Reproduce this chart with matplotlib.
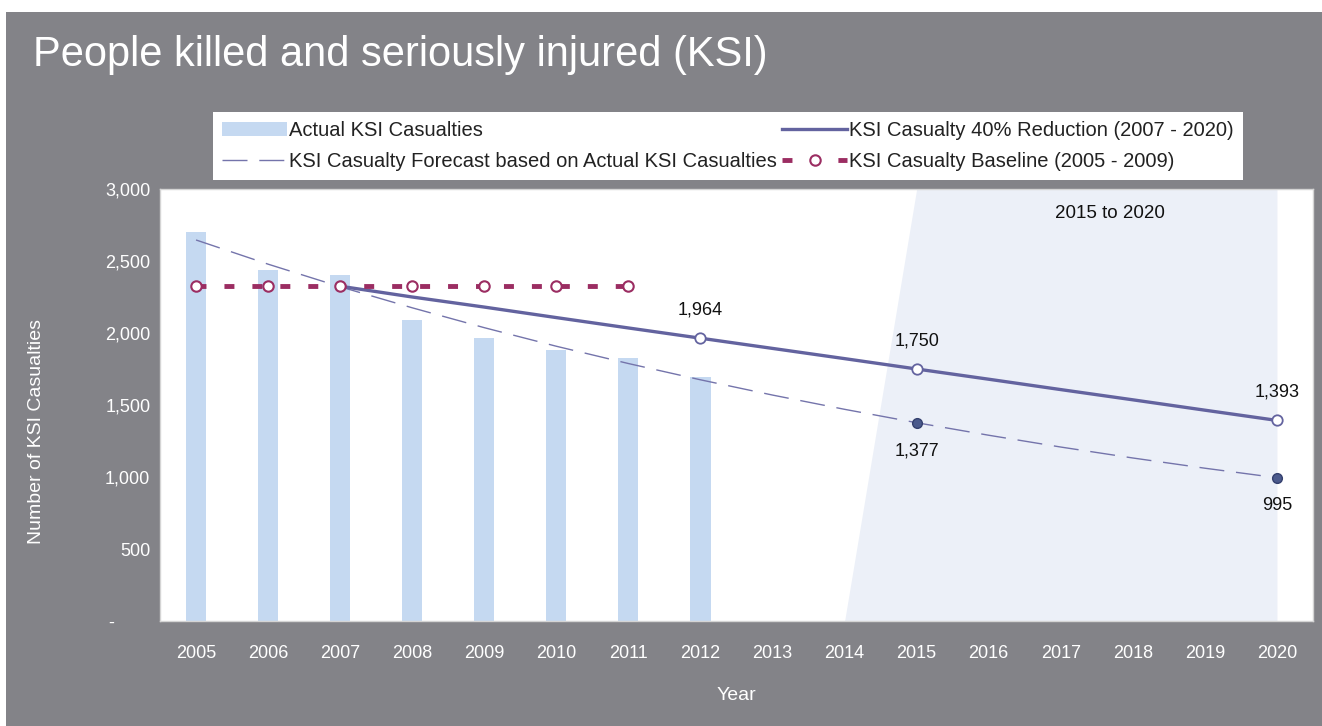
import numpy as np
import matplotlib
matplotlib.use("Agg")
import matplotlib.pyplot as plt
from matplotlib.patches import Rectangle
from matplotlib.ticker import FuncFormatter

plt.rcParams['font.family'] = ['Liberation Sans', 'DejaVu Sans']

# -------------------------------------------------
# Datos
# -------------------------------------------------
anios = [str(a) for a in range(2005, 2021)]

reales_anios = anios[:8]
reales = [2700, 2440, 2400, 2090, 1965, 1885, 1825, 1695]

base_anios = anios[:7]
base = [2325, 2325, 2325, 2325, 2325, 2325, 2325]

reduccion_anios = anios[2:]
reduccion = [2325, 2250, 2180, 2107, 2035, 1964, 1893, 1822, 1750,
             1679, 1607, 1536, 1464, 1393]
reduccion_etiq = {"2012": 1964, "2015": 1750, "2020": 1393}

pronostico = [2646, 2478, 2321, 2175, 2037, 1908, 1788, 1675, 1569,
              1470, 1377, 1290, 1208, 1132, 1061, 995]
pronostico_etiq = {"2015": 1377, "2020": 995}

sombra_anios = anios[9:]
sombra = [0, 3000, 3000, 3000, 3000, 3000, 3000]

# -------------------------------------------------
# Colores
# -------------------------------------------------
GRIS_FONDO = '#838388'
AZUL_BARRA = '#c5d9f1'
AZUL_LINEA = '#63639f'
AZUL_PRON  = '#7474ab'
AZUL_PUNTO = '#4b5a8c'
MAGENTA    = '#9b2d62'
SOMBRA     = '#ecf0f8'

W, H = 1322, 726
fig = plt.figure(figsize=(W / 100, H / 100), dpi=100)
fig.patch.set_facecolor('white')
fig.patches.append(Rectangle((6 / W, 0), 1, 1 - 12 / H, transform=fig.transFigure,
                             facecolor=GRIS_FONDO, edgecolor='none', zorder=-10))

ax = fig.add_axes([160 / W, 1 - 621 / H, (1313 - 160) / W, (621 - 189) / H])
ax.set_facecolor('white')

x = np.arange(len(anios))
idx = {a: i for i, a in enumerate(anios)}

xs = [idx[a] for a in sombra_anios]
ax.fill_between(xs, 0, sombra, color=SOMBRA, linewidth=0, zorder=0)

barras = ax.bar([idx[a] for a in reales_anios], reales, width=0.28,
                color=AZUL_BARRA, zorder=1, label='Actual KSI Casualties')

l_pron, = ax.plot(x, pronostico, color=AZUL_PRON, linewidth=1.0, dashes=(18, 8.5),
                  zorder=2, label='KSI Casualty Forecast based on Actual KSI Casualties')
ax.plot([idx[a] for a in pronostico_etiq], list(pronostico_etiq.values()),
        linestyle='none', marker='o', markersize=7, markerfacecolor=AZUL_PUNTO,
        markeredgecolor='#34406e', markeredgewidth=1, zorder=4)

l_red, = ax.plot([idx[a] for a in reduccion_anios], reduccion, color=AZUL_LINEA,
                 linewidth=2.4, zorder=3, label='KSI Casualty 40% Reduction (2007 - 2020)')
ax.plot([idx[a] for a in reduccion_etiq], list(reduccion_etiq.values()),
        linestyle='none', marker='o', markersize=7.5, markerfacecolor='white',
        markeredgecolor=AZUL_LINEA, markeredgewidth=1.3, zorder=5)

l_base, = ax.plot([idx[a] for a in base_anios], base, color=MAGENTA, linewidth=3.5,
                  dashes=(2.05, 3.7), marker='o', markersize=7.5, markerfacecolor='white',
                  markeredgecolor=MAGENTA, markeredgewidth=1.5, zorder=4,
                  label='KSI Casualty Baseline (2005 - 2009)')

for a, v in reduccion_etiq.items():
    ax.annotate(f"{v:,}", (idx[a], v), xytext=(0, 14), textcoords='offset points',
                ha='center', va='bottom', fontsize=13, color='#111111', zorder=6)
for a, v in pronostico_etiq.items():
    ax.annotate(f"{v:,}", (idx[a], v), xytext=(0, -14), textcoords='offset points',
                ha='center', va='top', fontsize=13, color='#111111', zorder=6)

ax.text(12.68, 2833, "2015 to 2020", ha='center', va='center',
        fontsize=13.5, color='#111111', zorder=6)

ax.set_xlim(-0.5, len(anios) - 0.5)
ax.set_ylim(0, 3000)
ax.set_xticks(x)
ax.set_xticklabels(anios)
ax.set_yticks(np.arange(0, 3001, 500))
ax.yaxis.set_major_formatter(FuncFormatter(
    lambda v, p: "-       " if v == 0 else f"{int(v):,}"))
ax.tick_params(axis='both', length=0, colors='white', labelsize=13)
ax.tick_params(axis='x', pad=17)
ax.tick_params(axis='y', pad=7)
for sp in ax.spines.values():
    sp.set_color('#d4d4d4')
    sp.set_linewidth(1)

ax.set_xlabel('Year', color='white', fontsize=14, labelpad=18)
fig.text(37 / W, 1 - 432 / H, 'Number of KSI Casualties', rotation=90,
         ha='center', va='center', color='white', fontsize=14)

fig.text(33 / W, 1 - 55 / H, 'People killed and seriously injured (KSI)',
         ha='left', va='center', color='white', fontsize=30)

leg = fig.legend([barras, l_pron, l_red, l_base],
                 [barras.get_label(), l_pron.get_label(), l_red.get_label(),
                  l_base.get_label()], ncol=2,
                 loc='upper left', bbox_to_anchor=(213 / W, 1 - 112 / H),
                 frameon=True, fancybox=False, framealpha=1, edgecolor='none',
                 fontsize=14.5, handlelength=3.2, handletextpad=0.1,
                 columnspacing=0.3, borderpad=0.45, labelspacing=0.6,
                 borderaxespad=0)
for t in leg.get_texts():
    t.set_color('#222222')

fig.savefig('out.png', dpi=100, facecolor=fig.get_facecolor())
